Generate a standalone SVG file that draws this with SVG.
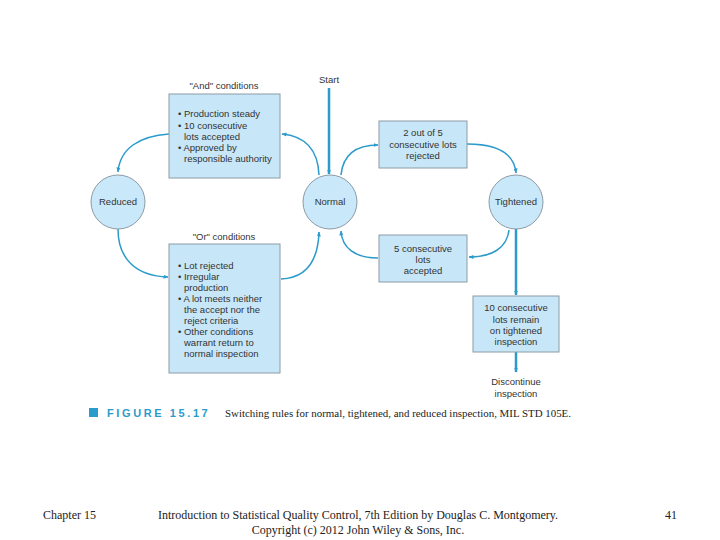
<svg xmlns="http://www.w3.org/2000/svg" width="720" height="540" viewBox="0 0 720 540">
<defs>
<marker id="ah" viewBox="0 0 10 10" refX="9" refY="5" markerWidth="5" markerHeight="5" orient="auto" markerUnits="userSpaceOnUse">
<path d="M0,1 L10,5 L0,9 Z" fill="#2b9bcb"/>
</marker>
<style>
.box{fill:#c7e7f8;stroke:#8c9ba5;stroke-width:1}
.circ{fill:#c9e8f9;stroke:#8c9ba5;stroke-width:1}
.t{font-family:"Liberation Sans",Arial,sans-serif;font-size:9.5px;fill:#333}
.c{text-anchor:middle}
.con{fill:none;stroke:#2b9bcb;stroke-width:1.5;marker-end:url(#ah)}
.thick{fill:none;stroke:#2b9bcb;stroke-width:2.5;marker-end:url(#ah)}
.serif{font-family:"Liberation Serif","Times New Roman",serif;fill:#222}
</style>
</defs>
<rect width="720" height="540" fill="#fff"/>

<g id="connectors">
<line class="thick" x1="329" y1="88" x2="329" y2="174"/>
<path class="con" d="M169,134 C140,136 120,148 118,172"/>
<path class="con" d="M118,229 C118,258 135,276 168,277"/>
<path class="con" d="M319,175 C318,150 305,136 282,134"/>
<path class="con" d="M281,279 C305,278 318,262 319,232"/>
<path class="con" d="M341,175 C343,155 355,145 378,145"/>
<path class="con" d="M378,258 C355,258 342,248 341,231"/>
<path class="con" d="M467,144 C495,144 514,152 516,173"/>
<path class="con" d="M509,230 C507,248 492,257 469,257"/>
<line class="thick" x1="516" y1="229" x2="516" y2="295"/>
<line class="thick" x1="516" y1="352" x2="516" y2="372"/>
</g>

<g id="start">
<text class="t c" x="329" y="83">Start</text>
</g>

<g id="and-box">
<text class="t c" x="224" y="89">"And" conditions</text>
<rect class="box" x="169" y="94" width="111" height="84"/>
<text class="t" x="178" y="117">• Production steady</text>
<text class="t" x="178" y="129">• 10 consecutive</text>
<text class="t" x="184" y="140">lots accepted</text>
<text class="t" x="178" y="151">• Approved by</text>
<text class="t" x="184" y="162">responsible authority</text>
</g>

<g id="reduced">
<circle class="circ" cx="118" cy="202" r="27"/>
<text class="t c" x="118" y="205">Reduced</text>
</g>

<g id="normal">
<circle class="circ" cx="330" cy="202" r="27"/>
<text class="t c" x="330" y="205">Normal</text>
</g>

<g id="tightened">
<circle class="circ" cx="516" cy="202" r="27"/>
<text class="t c" x="516" y="205">Tightened</text>
</g>

<g id="or-box">
<text class="t c" x="224" y="240">"Or" conditions</text>
<rect class="box" x="169" y="244" width="111" height="129"/>
<text class="t" x="178" y="269">• Lot rejected</text>
<text class="t" x="178" y="280">• Irregular</text>
<text class="t" x="184" y="291">production</text>
<text class="t" x="178" y="302">• A lot meets neither</text>
<text class="t" x="184" y="313">the accept nor the</text>
<text class="t" x="184" y="324">reject criteria</text>
<text class="t" x="178" y="335">• Other conditions</text>
<text class="t" x="184" y="346">warrant return to</text>
<text class="t" x="184" y="357">normal inspection</text>
</g>

<g id="two-of-five">
<rect class="box" x="379" y="121" width="88" height="47"/>
<text class="t c" x="423" y="136">2 out of 5</text>
<text class="t c" x="423" y="148">consecutive lots</text>
<text class="t c" x="423" y="159">rejected</text>
</g>

<g id="five-accepted">
<rect class="box" x="379" y="235" width="88" height="47"/>
<text class="t c" x="423" y="252">5 consecutive</text>
<text class="t c" x="423" y="263">lots</text>
<text class="t c" x="423" y="274">accepted</text>
</g>

<g id="ten-remain">
<rect class="box" x="473" y="296" width="86" height="56"/>
<text class="t c" x="516" y="311">10 consecutive</text>
<text class="t c" x="516" y="323">lots remain</text>
<text class="t c" x="516" y="334">on tightened</text>
<text class="t c" x="516" y="345">inspection</text>
</g>

<g id="discontinue">
<text class="t c" x="516" y="385">Discontinue</text>
<text class="t c" x="516" y="397">inspection</text>
</g>

<g id="caption">
<rect x="89" y="408" width="9" height="9" fill="#2b9bcb"/>
<text x="107" y="417" font-family="'Liberation Sans',Arial,sans-serif" font-weight="bold" font-size="11" letter-spacing="2.6" fill="#2b9bcb">FIGURE 15.17</text>
<text class="serif" x="225" y="417" font-size="10" textLength="346" lengthAdjust="spacingAndGlyphs">Switching rules for normal, tightened, and reduced inspection, MIL STD 105E.</text>
</g>

<g id="footer">
<text class="serif" x="43" y="519" font-size="12">Chapter 15</text>
<text class="serif" x="358" y="519" font-size="12" text-anchor="middle">Introduction to Statistical Quality Control, 7th Edition by Douglas C. Montgomery.</text>
<text class="serif" x="358" y="534" font-size="12" text-anchor="middle">Copyright (c) 2012  John Wiley &amp; Sons, Inc.</text>
<text class="serif" x="665" y="519" font-size="12">41</text>
</g>
</svg>
